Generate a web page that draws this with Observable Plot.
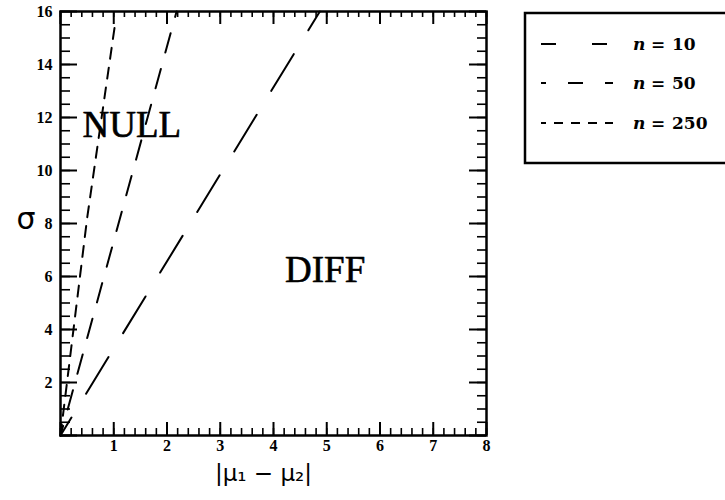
<!DOCTYPE html>
<html><head><meta charset="utf-8">
<script src="https://cdn.jsdelivr.net/npm/d3@7"></script>
<script src="https://cdn.jsdelivr.net/npm/@observablehq/plot@0.6"></script>
<style>
html,body{margin:0;padding:0;background:#fff;overflow:hidden}
#wrap{position:relative;width:725px;height:500px}
#legend{position:absolute;left:0;top:0}
</style></head><body><div id="wrap"></div>
<script>
// ---- data ----
const nValues = [10, 50, 250];
const n10X = [0, 4.87],  n10Y = [0, 16];
const n50X = [0, 2.18],  n50Y = [0, 16];
const n250X = [0, 0.5, 1.03], n250Y = [0, 8.2, 15.6];
const regionLabels = ["NULL", "DIFF"];
const regionX = [1.34, 4.97];
const regionY = [11.7, 6.23];
const xTickLabels = [1, 2, 3, 4, 5, 6, 7, 8];
const yTickLabels = [2, 4, 6, 8, 10, 12, 14, 16];
const xMajor = [0, 1, 2, 3, 4, 5, 6, 7, 8];
const yMajor = [0, 2, 4, 6, 8, 10, 12, 14, 16];
const xMinor = d3.range(0, 8.001, 0.2);
const yMinor = d3.range(0, 16.001, 0.5);
const yLabel = "σ";
const xLabel = "|μ₁ − μ₂|";

// ---- layout ----
const W = 725, H = 500, mL = 60, mR = 239, mT = 11, mB = 65;
const fw = W - mL - mR, fh = H - mT - mB;

const toPts = (xs, ys) => xs.map((x, i) => ({x, y: ys[i]}));
const styles = [
  {dash: "43,28", off: 22},
  {dash: "20,17", off: 10},
  {dash: "11,9", off: 0}
];
const series = [toPts(n10X, n10Y), toPts(n50X, n50Y), toPts(n250X, n250Y)];
const tickFont = {fontSize: 16, fontWeight: "bold", fontFamily: "Liberation Serif", fill: "black"};

const plot = Plot.plot({
  width: W, height: H,
  marginLeft: mL, marginRight: mR, marginTop: mT, marginBottom: mB,
  x: {domain: [0, 8], axis: null},
  y: {domain: [0, 16], axis: null},
  style: {fontFamily: "Liberation Serif", fontSize: "16px", background: "white", color: "black"},
  marks: [
    Plot.tickX(xMinor, {x: d => d, insetTop: fh - 7, strokeWidth: 1.6}),
    Plot.tickX(xMajor, {x: d => d, insetTop: fh - 13, strokeWidth: 2}),
    Plot.tickX(xMinor, {x: d => d, insetBottom: fh - 6, strokeWidth: 1.6}),
    Plot.tickX(xMajor, {x: d => d, insetBottom: fh - 13, strokeWidth: 2}),
    Plot.tickY(yMinor, {y: d => d, insetRight: fw - 10, strokeWidth: 1.6}),
    Plot.tickY(yMajor, {y: d => d, insetRight: fw - 17, strokeWidth: 2}),
    Plot.tickY(yMinor, {y: d => d, insetLeft: fw - 9, strokeWidth: 1.6}),
    Plot.tickY(yMajor, {y: d => d, insetLeft: fw - 17, strokeWidth: 2}),
    Plot.frame({strokeWidth: 2.5}),
    Plot.text(xTickLabels, {x: d => d, frameAnchor: "bottom", dy: 15, text: d => String(d), ...tickFont}),
    Plot.text(yTickLabels, {y: d => d, frameAnchor: "left", dx: -8, textAnchor: "end", text: d => String(d), ...tickFont}),
    ...series.map((s, i) => Plot.line(s, {x: "x", y: "y", stroke: "black", strokeWidth: 2,
      strokeDasharray: styles[i].dash, strokeDashoffset: styles[i].off})),
    Plot.text(regionLabels, {x: regionX, y: regionY, text: d => d, fontSize: 37,
      fontFamily: "Liberation Serif", fontWeight: "normal", fill: "black", stroke: "black", strokeWidth: 0.6}),
    Plot.text([yLabel], {frameAnchor: "left", dx: -44, dy: -4, text: d => d, fontSize: 30,
      fontFamily: "DejaVu Sans", fontWeight: "normal", fill: "black"}),
    Plot.text([xLabel], {frameAnchor: "bottom", dx: -10, dy: 45, text: d => d, fontSize: 23,
      fontFamily: "DejaVu Sans", fontWeight: "normal", fill: "black"})
  ]
});
const wrap = document.getElementById("wrap");
wrap.appendChild(plot);

// ---- legend ----
const lg = d3.select(wrap).append("svg").attr("id", "legend")
  .attr("width", W).attr("height", H)
  .style("position", "absolute").style("left", "0px").style("top", "0px");
lg.append("path").attr("d", "M730,13H525V163H730")
  .attr("fill", "white").attr("stroke", "black").attr("stroke-width", 2.5);
const legDash = [{dash: "15,36", off: 0}, {dash: "15,22", off: 10}, {dash: "9,8", off: 4}];
const rowY = [44, 83, 123];
nValues.forEach((n, i) => {
  lg.append("line").attr("x1", 541).attr("x2", 613).attr("y1", rowY[i]).attr("y2", rowY[i])
    .attr("stroke", "black").attr("stroke-width", 2.2)
    .attr("stroke-dasharray", legDash[i].dash).attr("stroke-dashoffset", legDash[i].off);
  const t = lg.append("text").attr("y", rowY[i]).attr("dy", "0.35em")
    .style("font-family", "DejaVu Serif").style("font-weight", "bold").style("font-size", "17px");
  t.append("tspan").attr("x", 633).style("font-style", "italic").text("n");
  t.append("tspan").attr("x", 651).text("=");
  t.append("tspan").attr("x", 672).text(String(n));
});
</script></body></html>
